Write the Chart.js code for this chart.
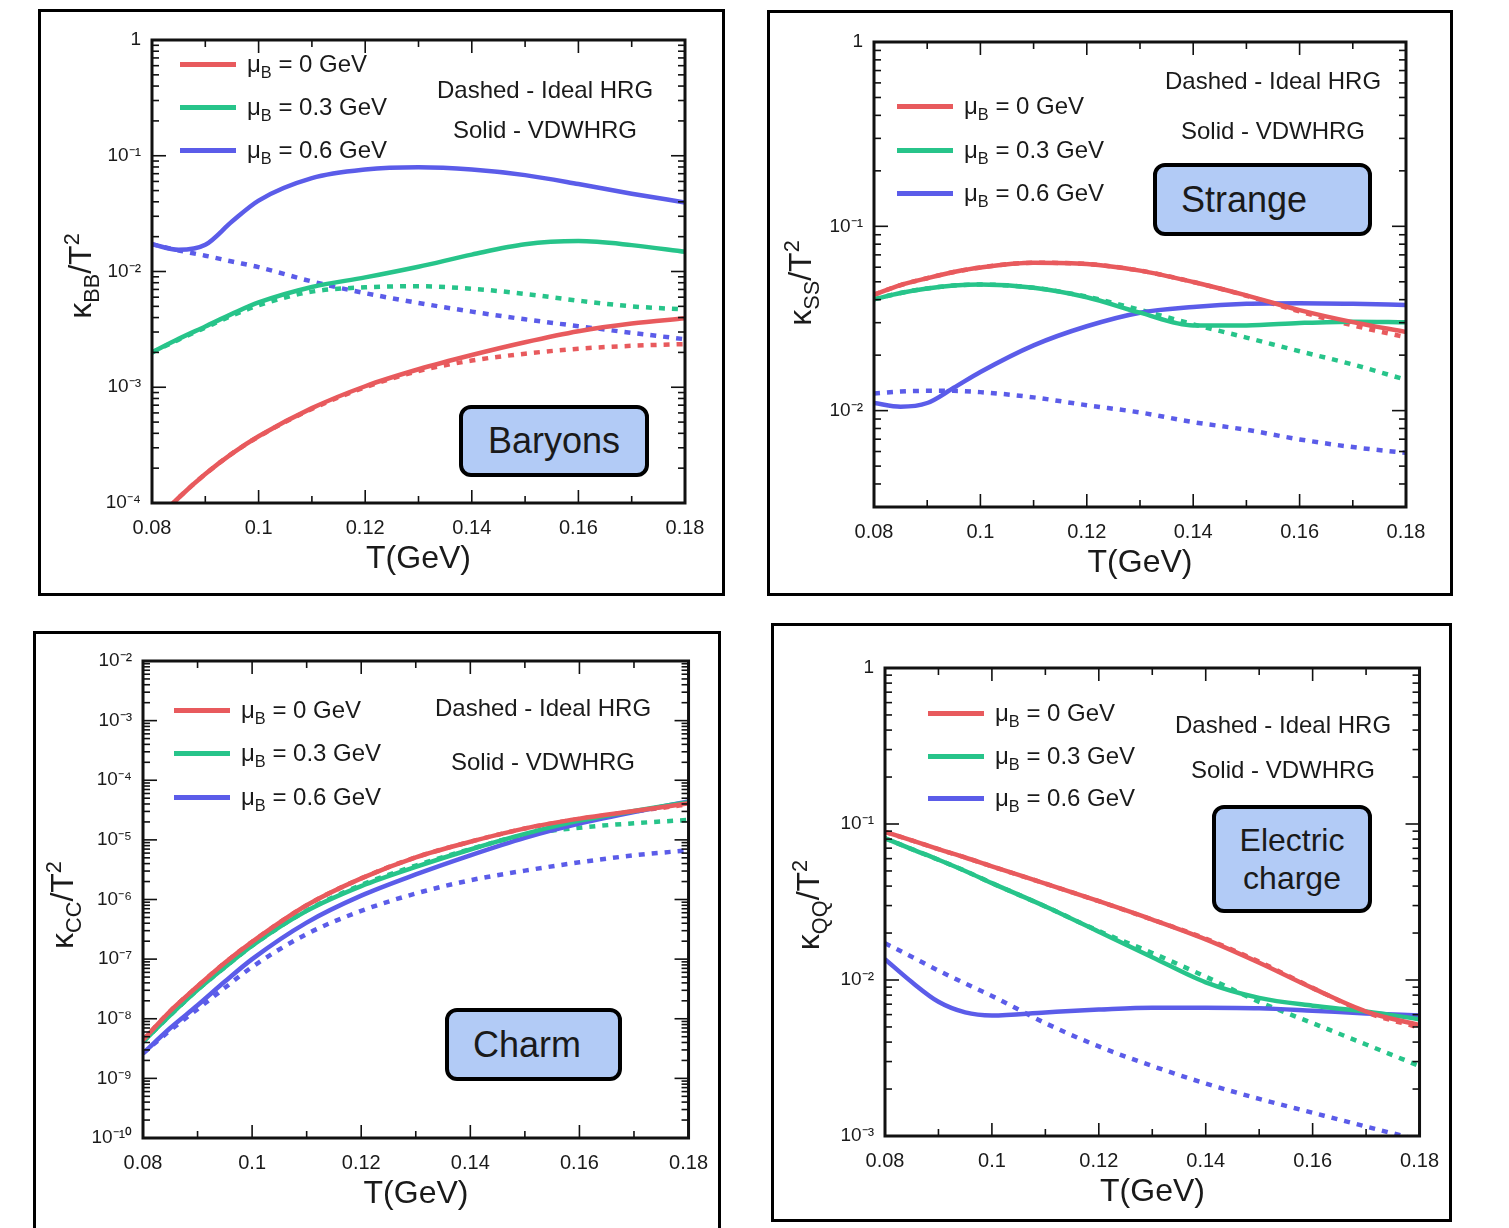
<!DOCTYPE html>
<html>
<head>
<meta charset="utf-8">
<title>Conductivity over T^2</title>
<script src="https://cdn.jsdelivr.net/npm/chart.js@4.4.1/dist/chart.umd.min.js"></script>
<style>
  body { margin: 0; background: #fff; width: 1509px; height: 1228px; overflow: hidden;
         font-family: "Liberation Sans", Arial, sans-serif; color: #1a1a1a; }
  canvas { position: absolute; }
  .box { position: absolute; border: 3px solid #000; box-sizing: border-box; }
  .txt { position: absolute; white-space: nowrap; line-height: 1; }
  .mid { transform: translate(-50%, -50%); }
  .rot { transform: translate(-50%, -50%) rotate(-90deg); }
  .swatch { position: absolute; height: 5px; }
  .tag { position: absolute; box-sizing: border-box; border: 4px solid #000; border-radius: 12px;
         background: #b2cbf6; display: flex; align-items: center; }
  sub, sup { font-size: 0.68em; line-height: 0; position: relative; vertical-align: baseline; }
  sub { top: 0.38em; }
  sup { top: -0.55em; }
</style>
</head>
<body>
<script>
// temperature grid (GeV) and axis ticks
const temps = [0.08, 0.085, 0.09, 0.095, 0.10, 0.11, 0.12, 0.13, 0.14, 0.15, 0.16, 0.17, 0.18];
const tempTicks = [0.08, 0.10, 0.12, 0.14, 0.16, 0.18];
const muLabels = ["0", "0.3", "0.6"];

// Baryons: kappa_BB / T^2
const bbMu0     = [6.5e-5, 1.11e-4, 1.78e-4, 2.67e-4, 3.77e-4, 6.6e-4, 1.02e-3, 1.43e-3, 1.9e-3, 2.45e-3, 3.05e-3, 3.55e-3, 3.94e-3];
const bbMu0Id   = [6.5e-5, 1.11e-4, 1.78e-4, 2.67e-4, 3.75e-4, 6.5e-4, 1.0e-3, 1.38e-3, 1.7e-3, 1.95e-3, 2.15e-3, 2.28e-3, 2.36e-3];
const bbMu03    = [2.0e-3, 2.62e-3, 3.35e-3, 4.3e-3, 5.4e-3, 7.35e-3, 8.9e-3, 1.1e-2, 1.4e-2, 1.72e-2, 1.83e-2, 1.69e-2, 1.48e-2];
const bbMu03Id  = [2.0e-3, 2.58e-3, 3.28e-3, 4.15e-3, 5.1e-3, 6.7e-3, 7.3e-3, 7.45e-3, 7.1e-3, 6.4e-3, 5.6e-3, 5.0e-3, 4.7e-3];
const bbMu06    = [1.72e-2, 1.54e-2, 1.7e-2, 2.7e-2, 4.1e-2, 6.4e-2, 7.6e-2, 7.95e-2, 7.6e-2, 6.8e-2, 5.7e-2, 4.7e-2, 3.95e-2];
const bbMu06Id  = [1.72e-2, 1.52e-2, 1.37e-2, 1.22e-2, 1.09e-2, 8.2e-3, 6.5e-3, 5.35e-3, 4.5e-3, 3.86e-3, 3.37e-3, 2.95e-3, 2.6e-3];

// Strange: kappa_SS / T^2
const ssMu0     = [4.26e-2, 4.8e-2, 5.23e-2, 5.65e-2, 5.98e-2, 6.34e-2, 6.25e-2, 5.75e-2, 4.99e-2, 4.22e-2, 3.51e-2, 3.02e-2, 2.67e-2];
const ssMu0Id   = [4.26e-2, 4.8e-2, 5.23e-2, 5.65e-2, 5.98e-2, 6.34e-2, 6.25e-2, 5.75e-2, 4.99e-2, 4.2e-2, 3.45e-2, 2.9e-2, 2.5e-2];
const ssMu03    = [4.02e-2, 4.35e-2, 4.6e-2, 4.77e-2, 4.83e-2, 4.64e-2, 4.12e-2, 3.4e-2, 2.9e-2, 2.9e-2, 2.99e-2, 3.04e-2, 3.02e-2];
const ssMu03Id  = [4.02e-2, 4.35e-2, 4.6e-2, 4.77e-2, 4.83e-2, 4.64e-2, 4.15e-2, 3.52e-2, 2.94e-2, 2.49e-2, 2.1e-2, 1.78e-2, 1.47e-2];
const ssMu06    = [1.1e-2, 1.05e-2, 1.1e-2, 1.33e-2, 1.62e-2, 2.26e-2, 2.87e-2, 3.4e-2, 3.65e-2, 3.8e-2, 3.83e-2, 3.8e-2, 3.74e-2];
const ssMu06Id  = [1.24e-2, 1.27e-2, 1.28e-2, 1.28e-2, 1.26e-2, 1.18e-2, 1.07e-2, 9.77e-3, 8.66e-3, 7.87e-3, 6.98e-3, 6.34e-3, 5.9e-3];

// Charm: kappa_CC / T^2
const ccMu0     = [4.4e-9, 1.35e-8, 3.5e-8, 8.7e-8, 1.95e-7, 8.0e-7, 2.26e-6, 5.1e-6, 9.3e-6, 1.56e-5, 2.27e-5, 3.05e-5, 4.1e-5];
const ccMu0Id   = [4.4e-9, 1.35e-8, 3.5e-8, 8.7e-8, 1.95e-7, 8.0e-7, 2.26e-6, 5.1e-6, 9.3e-6, 1.55e-5, 2.24e-5, 2.98e-5, 3.95e-5];
const ccMu03    = [4.1e-9, 1.15e-8, 3.05e-8, 7.3e-8, 1.68e-7, 6.45e-7, 1.68e-6, 3.53e-6, 6.9e-6, 1.26e-5, 2.1e-5, 3.05e-5, 4.3e-5];
const ccMu03Id  = [4.1e-9, 1.15e-8, 3.05e-8, 7.3e-8, 1.68e-7, 6.5e-7, 1.75e-6, 3.7e-6, 7.0e-6, 1.22e-5, 1.6e-5, 1.9e-5, 2.16e-5];
const ccMu06    = [2.63e-9, 7.0e-9, 1.68e-8, 4.2e-8, 1.0e-7, 4.1e-7, 1.16e-6, 2.63e-6, 5.5e-6, 1.08e-5, 1.87e-5, 2.92e-5, 4.4e-5];
const ccMu06Id  = [2.63e-9, 6.4e-9, 1.45e-8, 3.3e-8, 7.4e-8, 2.63e-7, 6.45e-7, 1.26e-6, 2.1e-6, 3.05e-6, 4.2e-6, 5.5e-6, 6.7e-6];

// Electric charge: kappa_QQ / T^2
const qqMu0     = [8.9e-2, 7.85e-2, 6.9e-2, 6.1e-2, 5.35e-2, 4.15e-2, 3.2e-2, 2.44e-2, 1.82e-2, 1.29e-2, 8.87e-3, 6.28e-3, 5.14e-3];
const qqMu0Id   = [8.9e-2, 7.85e-2, 6.9e-2, 6.1e-2, 5.35e-2, 4.15e-2, 3.2e-2, 2.44e-2, 1.84e-2, 1.31e-2, 8.9e-3, 6.2e-3, 4.95e-3];
const qqMu03    = [8.1e-2, 6.9e-2, 5.9e-2, 5.0e-2, 4.18e-2, 2.96e-2, 2.04e-2, 1.4e-2, 9.66e-3, 7.68e-3, 6.84e-3, 6.28e-3, 5.6e-3];
const qqMu03Id  = [8.1e-2, 6.9e-2, 5.9e-2, 5.0e-2, 4.18e-2, 2.96e-2, 2.06e-2, 1.49e-2, 1.05e-2, 7.24e-3, 5.29e-3, 3.86e-3, 2.81e-3];
const qqMu06    = [1.36e-2, 9.7e-3, 7.25e-3, 6.2e-3, 5.93e-3, 6.2e-3, 6.46e-3, 6.65e-3, 6.65e-3, 6.6e-3, 6.36e-3, 6.1e-3, 5.93e-3];
const qqMu06Id  = [1.72e-2, 1.41e-2, 1.15e-2, 9.5e-3, 7.9e-3, 5.29e-3, 3.75e-3, 2.81e-3, 2.17e-3, 1.73e-3, 1.41e-3, 1.15e-3, 9.4e-4];

const colors = ["#e85a5d", "#27c48a", "#5b5ce9"];
const FONT = '"Liberation Sans", Arial, sans-serif';

const panels = [
  { box: {l: 38, t: 9, r: 725, b: 596}, plot: {l: 152, t: 40, r: 685, b: 503}, yMin: 1e-4, yMax: 1,
    series: [[bbMu0, bbMu0Id], [bbMu03, bbMu03Id], [bbMu06, bbMu06Id]],
    legend: {x: 180, ys: [64, 107, 150]}, notes: {cx: 545, ys: [90, 130]},
    tag: {l: 459, t: 405, r: 649, b: 477, html: "Baryons", size: 36, center: true},
    yTitle: {cx: 80, cy: 276, html: "κ<sub>BB</sub>/T<sup>2</sup>"} },
  { box: {l: 767, t: 10, r: 1453, b: 596}, plot: {l: 874, t: 42, r: 1406, b: 507}, yMin: 3e-3, yMax: 1,
    series: [[ssMu0, ssMu0Id], [ssMu03, ssMu03Id], [ssMu06, ssMu06Id]],
    legend: {x: 897, ys: [106, 150, 193]}, notes: {cx: 1273, ys: [81, 131]},
    tag: {l: 1153, t: 163, r: 1372, b: 236, html: "Strange", size: 36, pad: 24},
    yTitle: {cx: 800, cy: 283, html: "κ<sub>SS</sub>/T<sup>2</sup>"} },
  { box: {l: 33, t: 631, r: 721, b: 1240}, plot: {l: 143, t: 661, r: 689, b: 1138}, yMin: 1e-10, yMax: 1e-2,
    series: [[ccMu0, ccMu0Id], [ccMu03, ccMu03Id], [ccMu06, ccMu06Id]],
    legend: {x: 174, ys: [710, 753, 797]}, notes: {cx: 543, ys: [708, 762]},
    tag: {l: 445, t: 1008, r: 622, b: 1081, html: "Charm", size: 36, pad: 24},
    yTitle: {cx: 62, cy: 905, html: "κ<sub>CC</sub>/T<sup>2</sup>"} },
  { box: {l: 771, t: 623, r: 1452, b: 1222}, plot: {l: 885, t: 668, r: 1420, b: 1136}, yMin: 1e-3, yMax: 1,
    series: [[qqMu0, qqMu0Id], [qqMu03, qqMu03Id], [qqMu06, qqMu06Id]],
    legend: {x: 928, ys: [713, 756, 798]}, notes: {cx: 1283, ys: [725, 770]},
    tag: {l: 1212, t: 805, r: 1372, b: 913, html: "Electric<br>charge", size: 32, center: true},
    yTitle: {cx: 808, cy: 905, html: "κ<sub>QQ</sub>/T<sup>2</sup>"} }
];

const supDigits = {"-": "⁻", "0": "⁰", "1": "¹", "2": "²", "3": "³", "4": "⁴", "5": "⁵", "6": "⁶", "7": "⁷", "8": "⁸", "9": "⁹"};
function powLabel(v) {
  const e = Math.round(Math.log10(v));
  if (e === 0) return "1";
  return "10" + String(e).split("").map(c => supDigits[c]).join("");
}

// inner tick marks on all four sides plus the frame
const frameTicks = {
  id: "frameTicks",
  afterDraw(chart) {
    const {ctx, chartArea: a, scales: {x, y}} = chart;
    ctx.save();
    ctx.strokeStyle = "#111";
    ctx.lineWidth = 1.6;
    const seg = (x1, y1, x2, y2) => { ctx.beginPath(); ctx.moveTo(x1, y1); ctx.lineTo(x2, y2); ctx.stroke(); };
    const lo = Math.floor(Math.log10(y.min)), hi = Math.ceil(Math.log10(y.max));
    for (let e = lo; e <= hi; e++) {
      for (let k = 1; k < 10; k++) {
        const v = k * Math.pow(10, e);
        if (v < y.min * 0.999 || v > y.max * 1.001) continue;
        const py = y.getPixelForValue(v);
        const len = k === 1 ? 14 : 7;
        seg(a.left, py, a.left + len, py);
        seg(a.right, py, a.right - len, py);
      }
    }
    for (let i = 0; i <= 10; i++) {
      const px = x.getPixelForValue(x.min + i * 0.01);
      const len = i % 2 === 0 ? 13 : 7;
      seg(px, a.bottom, px, a.bottom - len);
      seg(px, a.top, px, a.top + len);
    }
    ctx.lineWidth = 3;
    ctx.strokeRect(a.left, a.top, a.right - a.left, a.bottom - a.top);
    ctx.restore();
  }
};

function addText(html, x, y, size, cls) {
  const d = document.createElement("div");
  d.className = "txt " + (cls || "");
  d.style.left = x + "px";
  d.style.top = y + "px";
  d.style.fontSize = size + "px";
  d.innerHTML = html;
  document.body.appendChild(d);
  return d;
}

function makePanel(p) {
  const w = p.box.r - p.box.l, h = p.box.b - p.box.t;
  const cv = document.createElement("canvas");
  cv.width = w; cv.height = h;
  cv.style.left = p.box.l + "px"; cv.style.top = p.box.t + "px";
  cv.style.width = w + "px"; cv.style.height = h + "px";
  document.body.appendChild(cv);

  const datasets = [];
  p.series.forEach((pair, i) => {
    pair.forEach((vals, j) => {
      datasets.push({
        label: "μB = " + muLabels[i] + " GeV" + (j ? " (Ideal HRG)" : " (VDWHRG)"),
        data: temps.map((t, k) => ({x: t, y: vals[k]})),
        borderColor: colors[i],
        borderWidth: 4.5,
        borderDash: j ? [6, 7] : [],
        borderCapStyle: "butt",
        pointRadius: 0,
        fill: false,
        cubicInterpolationMode: "monotone",
        order: j ? 1 : 0
      });
    });
  });

  new Chart(cv, {
    type: "line",
    data: { datasets },
    options: {
      responsive: false,
      animation: false,
      layout: { padding: { left: 0, top: p.plot.t - p.box.t, right: p.box.r - p.plot.r, bottom: 0 } },
      plugins: { legend: { display: false }, tooltip: { enabled: false } },
      scales: {
        x: {
          type: "linear", min: 0.08, max: 0.18,
          grid: { display: false, drawTicks: false }, border: { display: false },
          afterBuildTicks: s => { s.ticks = tempTicks.map(v => ({ value: v })); },
          afterFit: s => { s.height = p.box.b - p.plot.b; },
          ticks: { callback: v => String(+v.toFixed(2)), color: "#1a1a1a", padding: 13,
                   font: { family: FONT, size: 20 }, maxRotation: 0, autoSkip: false }
        },
        y: {
          type: "logarithmic", min: p.yMin, max: p.yMax,
          grid: { display: false, drawTicks: false }, border: { display: false },
          afterBuildTicks: s => {
            const t = [];
            for (let e = Math.ceil(Math.log10(p.yMin)); e <= Math.floor(Math.log10(p.yMax)); e++) t.push({ value: Math.pow(10, e) });
            s.ticks = t;
          },
          afterFit: s => { s.width = p.plot.l - p.box.l; },
          ticks: { callback: v => powLabel(v), color: "#1a1a1a", padding: 11,
                   font: { family: FONT, size: 19 }, autoSkip: false }
        }
      }
    },
    plugins: [frameTicks]
  });

  // outer frame
  const fr = document.createElement("div");
  fr.className = "box";
  fr.style.left = p.box.l + "px"; fr.style.top = p.box.t + "px";
  fr.style.width = w + "px"; fr.style.height = h + "px";
  document.body.appendChild(fr);

  // legend
  muLabels.forEach((m, i) => {
    const sw = document.createElement("div");
    sw.className = "swatch";
    sw.style.left = p.legend.x + "px"; sw.style.top = (p.legend.ys[i] - 2.5) + "px";
    sw.style.width = "56px"; sw.style.background = colors[i];
    document.body.appendChild(sw);
    const t = addText("μ<sub>B</sub> = " + m + " GeV", p.legend.x + 67, p.legend.ys[i], 24, "");
    t.style.transform = "translateY(-50%)";
  });

  // notes
  addText("Dashed - Ideal HRG", p.notes.cx, p.notes.ys[0], 24, "mid");
  addText("Solid - VDWHRG", p.notes.cx, p.notes.ys[1], 24, "mid");

  // tag box
  const tg = document.createElement("div");
  tg.className = "tag";
  tg.style.left = p.tag.l + "px"; tg.style.top = p.tag.t + "px";
  tg.style.width = (p.tag.r - p.tag.l) + "px"; tg.style.height = (p.tag.b - p.tag.t) + "px";
  tg.style.fontSize = p.tag.size + "px";
  tg.style.lineHeight = "1.2";
  if (p.tag.center) { tg.style.justifyContent = "center"; tg.style.textAlign = "center"; }
  else { tg.style.paddingLeft = p.tag.pad + "px"; }
  tg.innerHTML = "<span>" + p.tag.html + "</span>";
  document.body.appendChild(tg);

  // axis titles
  addText(p.yTitle.html, p.yTitle.cx, p.yTitle.cy, 32, "rot");
  addText("T(GeV)", (p.plot.l + p.plot.r) / 2, p.plot.b + 54, 32, "mid");
}

panels.forEach(makePanel);
</script>
</body>
</html>
